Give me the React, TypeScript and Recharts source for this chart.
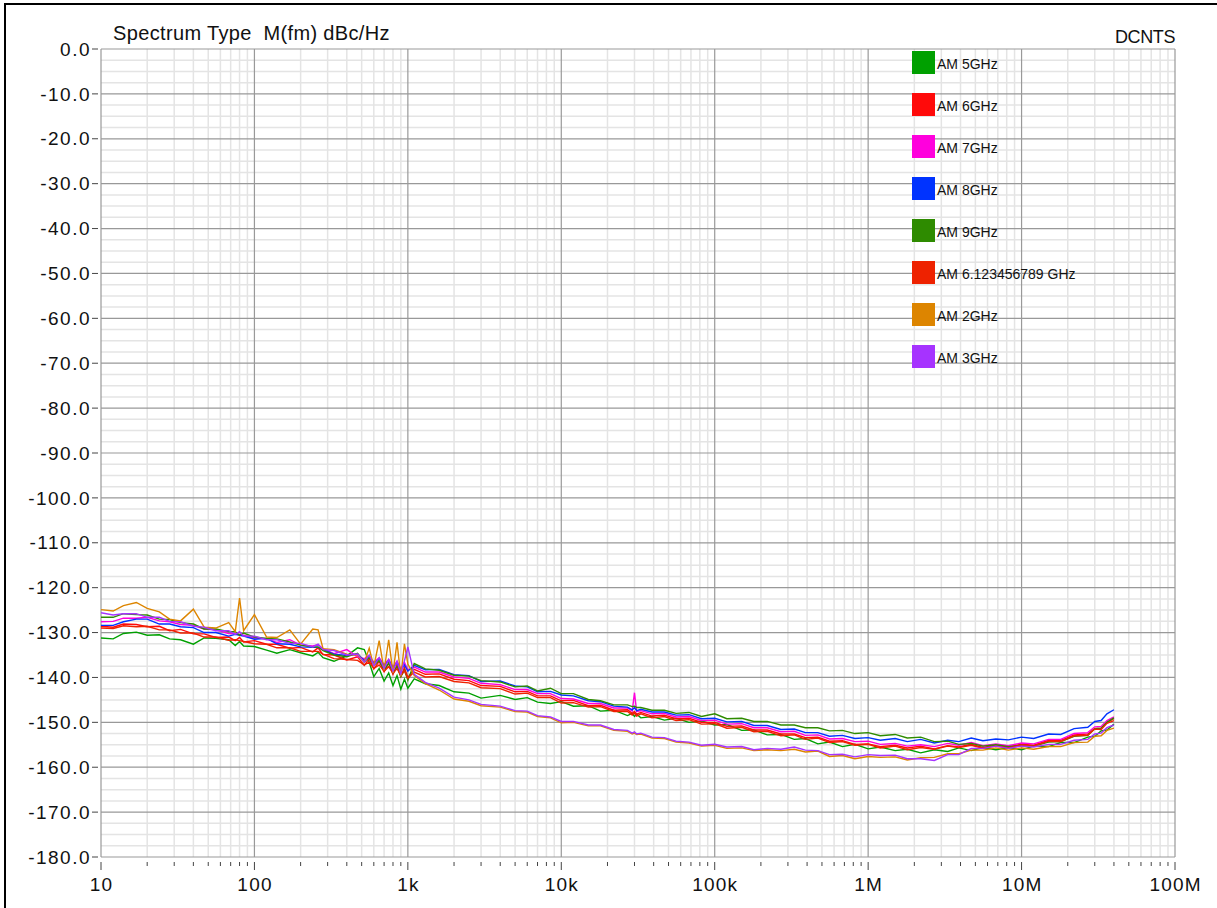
import { CartesianGrid, Legend, Line, LineChart, XAxis, YAxis } from 'recharts'

// Offset frequencies (Hz), shared by every trace.
const FREQ = [
  10, 12, 14, 17, 20, 24, 28, 33, 40, 47,
  56, 68, 75, 80, 85, 100, 120, 140, 170, 200,
  240, 260, 280, 330, 400, 470, 520, 560, 600, 650,
  700, 750, 800, 850, 900, 950, 1000,
  1100, 1300, 1600, 2000, 2500, 3000, 4000, 5000, 6000, 7000,
  8500, 10000, 12000, 15000, 18000, 22000, 27000, 29000, 30000, 31000,
  33000, 39000, 47000, 56000, 68000, 82000, 100000, 120000, 150000, 180000,
  220000, 270000, 330000, 390000, 470000, 560000, 680000, 820000, 1e6, 1.2e6,
  1.5e6, 1.8e6, 2.2e6, 2.7e6, 3.3e6, 3.9e6, 4.7e6, 5.6e6, 6.8e6, 8.2e6,
  1e7, 1.2e7, 1.5e7, 1.8e7, 2.2e7, 2.7e7, 3e7, 3.3e7, 3.6e7, 4e7,
]

// M(fm) in dBc/Hz
const AM_5GHZ = [
  -131.2, -131.4, -130.2, -129.9, -130.6, -130.5, -131.4, -131.6, -132.6, -131.2,
  -131.3, -131.6, -132.9, -132, -133, -133.1, -133.9, -134.6, -133.8, -134.5,
  -135.2, -134.4, -135.6, -136.4, -135.2, -133.4, -133.8, -136.6, -139.8, -138,
  -140.8, -139, -141.8, -139.6, -142.6, -140.4, -142.4,
  -140.3, -141.4, -141.8, -143.2, -143.5, -144.6, -144, -144.9, -144.5, -145.5,
  -145.8, -145.4, -146.4, -146.3, -147.5, -147.3, -148.5, -148, -148.7, -148.2,
  -149, -148.7, -149.5, -149.1, -150, -149.7, -150.6, -150.5, -151.8, -151.7,
  -152.8, -152.7, -153.8, -153.6, -154.8, -154.4, -155.4, -154.9, -155.9, -155.5,
  -156.3, -156, -156.8, -156.1, -156.5, -155.7, -156.3, -155.6, -156.1, -155.6,
  -156.1, -155.3, -155.4, -154.5, -154.5, -153.3, -153.1, -151.9, -151.7, -150.4,
]
const AM_6GHZ = [
  -128.6, -128.8, -128.1, -128.2, -128.7, -128.6, -129.6, -129.3, -130.3, -130.3,
  -131.1, -131, -131.8, -131.1, -132.1, -131.8, -132.6, -132.6, -133.5, -133.3,
  -134.3, -133.4, -134.9, -135, -136.1, -135.4, -137.3, -135.8, -138.1, -136.4,
  -138.7, -136.8, -139.3, -137.2, -139.8, -137.8, -140,
  -138.2, -139.3, -139.2, -140.4, -140.7, -141.8, -142, -143.2, -143.1, -144.1,
  -144.1, -145.2, -145.1, -146.3, -146.2, -147.3, -147.2, -148, -147.6, -148.2,
  -147.8, -148.6, -148.4, -149.2, -149.1, -150, -150, -150.9, -150.8, -151.7,
  -151.7, -152.6, -152.6, -153.4, -153.3, -154.2, -154.1, -154.9, -154.8, -155.4,
  -155.1, -155.7, -155.3, -155.9, -155.2, -155.5, -154.9, -155.6, -155.1, -155.5,
  -154.9, -155.1, -154, -154, -152.8, -152.6, -151.4, -151.3, -150, -149.2,
]
const AM_7GHZ = [
  -127.6, -127.5, -126.8, -126.8, -126.6, -127.4, -127.6, -128.2, -128.4, -129.2,
  -129.4, -130.2, -130.3, -130.4, -130.6, -131.2, -131.4, -132.2, -131.6, -132.8,
  -133, -132.7, -133.6, -134.7, -133.8, -135.4, -135.8, -135.2, -136.6, -135.6,
  -137.1, -136, -137.6, -136.4, -138, -136.6, -138.3,
  -137.7, -138.8, -138.8, -139.9, -140.2, -141.3, -141.6, -142.7, -142.7, -143.6,
  -143.6, -144.7, -144.8, -145.8, -145.8, -146.8, -146.8, -147.5, -143.4, -147.6,
  -147.4, -148.1, -148, -148.8, -148.7, -149.6, -149.5, -150.4, -150.3, -151.2,
  -151.2, -152.1, -152, -152.9, -152.8, -153.7, -153.6, -154.3, -154.2, -154.9,
  -154.7, -155.3, -155, -155.4, -154.7, -155.1, -154.5, -155.2, -154.8, -155.2,
  -154.6, -154.8, -153.8, -153.8, -152.5, -152.3, -151, -150.9, -149.6, -148.8,
]
const AM_8GHZ = [
  -128.4, -128.4, -127.6, -127, -127, -128.1, -128.1, -128.7, -128.9, -130,
  -130, -130.8, -130.4, -130.6, -130.8, -131.5, -131.3, -132.5, -132.6, -133.2,
  -133.3, -133.3, -133.8, -134.8, -135.1, -134.8, -136.2, -135.5, -136.8, -135.9,
  -137.4, -136.2, -137.8, -136.8, -138.4, -137.2, -138.6,
  -137.3, -138.3, -138.2, -139.4, -139.6, -140.9, -140.8, -141.9, -142.1, -143.2,
  -143.1, -143.9, -144.1, -145.2, -145.4, -146.4, -146.6, -147.2, -146.7, -147.4,
  -147.1, -147.7, -147.7, -148.4, -148.3, -149.2, -149.1, -149.9, -149.8, -150.7,
  -150.7, -151.6, -151.5, -152.3, -152.3, -153.1, -152.9, -153.6, -153.4, -154,
  -153.6, -154.3, -153.8, -154.6, -154, -154.3, -153.5, -154.1, -153.7, -153.9,
  -153.3, -153.6, -152.6, -152.7, -151.4, -151.1, -149.8, -149.6, -148.1, -147.2,
]
const AM_9GHZ = [
  -126.6, -126.6, -125.8, -126, -126.1, -127, -127.1, -127.8, -128.1, -129.2,
  -129.2, -129.8, -129.8, -130.6, -130.1, -131, -131.3, -131.4, -132.1, -132.8,
  -133.2, -133.2, -134, -135, -135.4, -134.6, -136.6, -135.4, -137.3, -136.2,
  -138.3, -136.8, -139, -137.6, -139.8, -138.4, -140.6,
  -136.9, -138.1, -138.4, -139.5, -139.7, -140.7, -141, -142.1, -141.9, -143,
  -142.4, -143.6, -143.6, -144.9, -145.2, -146.1, -146.1, -146.5, -146.4, -146.7,
  -146.7, -147.3, -147.3, -148, -147.8, -148.7, -148.1, -149.2, -149.1, -149.8,
  -149.8, -150.6, -150.6, -151.2, -151.2, -151.9, -151.8, -152.5, -152.3, -153,
  -152.7, -153.5, -153.3, -154.3, -154.2, -154.9, -154.7, -155.3, -155, -155.4,
  -155.1, -155.3, -154.4, -154.3, -153.1, -152.9, -151.4, -151.3, -150, -149,
]
const AM_6_123 = [
  -129, -129.1, -128.5, -128.7, -128.6, -129.4, -129.4, -130.1, -130.1, -131,
  -131, -131.7, -131.6, -131.8, -132, -132.5, -132.6, -133.4, -133.4, -134.2,
  -134.2, -134.2, -134.8, -135.8, -136, -136.2, -137.2, -136.6, -138, -137.2,
  -138.6, -137.6, -139.1, -138, -139.6, -138.5, -140.2,
  -138.8, -139.9, -139.8, -140.9, -141.2, -142.3, -142.5, -143.7, -143.5, -144.5,
  -144.5, -145.7, -145.6, -146.6, -146.5, -147.6, -147.6, -148.4, -147.9, -148.6,
  -148.1, -149, -148.7, -149.6, -149.4, -150.4, -150.3, -151.3, -151.1, -152.1,
  -152, -153, -152.8, -153.8, -153.5, -154.5, -154.3, -155.1, -154.9, -155.7,
  -155.3, -156.1, -155.6, -156, -155.3, -155.6, -155.1, -155.8, -155.3, -155.7,
  -155, -155.3, -154.2, -154.3, -153, -152.9, -151.5, -151.6, -150.2, -149.6,
]
const AM_2GHZ = [
  -124.9, -125.2, -124, -123.3, -124.6, -125.4, -127, -127.4, -124.8, -128.8,
  -129, -127.8, -129.8, -122.3, -129.6, -126, -131, -131.1, -129.4, -132.6,
  -129.2, -129.4, -133.6, -133.8, -134.8, -135, -136.6, -133.5, -137.6, -131.8,
  -138.4, -131.6, -139, -132.2, -139.8, -132.5, -137,
  -139.6, -141.4, -142.8, -144.8, -145.3, -146.3, -146.6, -147.6, -147.7, -148.7,
  -149, -150.1, -150, -150.8, -150.8, -151.8, -152, -152.6, -152.4, -152.7,
  -152.6, -153.5, -153.6, -154.4, -154.6, -155.3, -155.1, -155.8, -155.7, -156.3,
  -156.1, -156.3, -156, -156.6, -156.4, -157.6, -157.4, -158.1, -157.6, -157.8,
  -157.7, -158.4, -157.9, -157.8, -157, -157, -156.2, -156.2, -155.7, -156.2,
  -155.7, -156, -155.4, -155.4, -154.5, -154.4, -153.1, -153, -151.8, -151.3,
]
const AM_3GHZ = [
  -125.6, -126.1, -125.8, -125.8, -126.6, -126.6, -127.5, -127.6, -128.6, -128.8,
  -129.6, -129.6, -130.4, -129.8, -130.8, -130.8, -131.6, -131.6, -132.4, -132.4,
  -133.2, -132.6, -133.8, -134, -135, -134.8, -136.6, -135, -137.4, -135.6,
  -138, -136, -138.6, -136.4, -139.2, -136.3, -133.2,
  -139.3, -141.1, -142.4, -144.4, -145, -146, -146.4, -147.4, -147.5, -148.5,
  -148.8, -149.8, -149.8, -150.6, -150.6, -151.6, -151.8, -152.4, -152.1, -152.6,
  -152.4, -153.3, -153.4, -154.2, -154.4, -155.1, -154.9, -155.5, -155.4, -156.1,
  -155.8, -156, -155.5, -156.2, -156.3, -157.2, -157.1, -157.7, -157.2, -157.4,
  -157.3, -158.1, -158.1, -158.5, -157.2, -157.2, -155.8, -155.8, -155.3, -155.8,
  -155.3, -155.5, -154.9, -154.9, -154, -153.8, -152.6, -152.4, -151.2, -150.6,
]

const SERIES_NAMES = [
  'AM 5GHz',
  'AM 6GHz',
  'AM 7GHz',
  'AM 8GHz',
  'AM 9GHz',
  'AM 6.123456789 GHz',
  'AM 2GHz',
  'AM 3GHz',
]
const SERIES_VALUES = [AM_5GHZ, AM_6GHZ, AM_7GHZ, AM_8GHZ, AM_9GHZ, AM_6_123, AM_2GHZ, AM_3GHZ]
const SERIES_COLORS = ['#00a000', '#ff0a0a', '#ff00dd', '#0033ff', '#2e8b00', '#ee2200', '#dd8500', '#a633ff']

const X_DECADES = [10, 100, 1000, 1e4, 1e5, 1e6, 1e7, 1e8]
const X_DECADE_LABELS = ['10', '100', '1k', '10k', '100k', '1M', '10M', '100M']
const Y_TICKS = [0, -10, -20, -30, -40, -50, -60, -70, -80, -90, -100, -110, -120, -130, -140, -150, -160, -170, -180]

const FONT = '"Liberation Sans", Arial, sans-serif'

// 2..9 per decade for the minor ticks / grid
const xMinor: number[] = []
X_DECADES.slice(0, -1).forEach((d) => {
  for (let m = 2; m <= 9; m++) xMinor.push(d * m)
})
const xAllTicks = [...X_DECADES, ...xMinor].sort((a, b) => a - b)
const yMinor: number[] = []
for (let v = 0; v > -180; v -= 2.5) if (v % 10 !== 0) yMinor.push(v)

const data = FREQ.map((f, i) => {
  const row: Record<string, number> = { f }
  SERIES_VALUES.forEach((vals, k) => {
    row[`s${k}`] = vals[i]
  })
  return row
})

function XTick(props: any) {
  const { x, y, payload } = props
  const idx = X_DECADES.indexOf(payload.value)
  const major = idx >= 0
  return (
    <g>
      <line x1={x} x2={x} y1={y + 5} y2={y + (major ? 13 : 9)} stroke="#444" strokeWidth={1} />
      {major && (
        <text
          x={x + 0.6}
          y={y + 34}
          textAnchor="middle"
          fontSize={19}
          letterSpacing={1.2}
          fontFamily={FONT}
          fill="#111"
        >
          {X_DECADE_LABELS[idx]}
        </text>
      )}
    </g>
  )
}

function YTick(props: any) {
  const { x, y, payload } = props
  return (
    <g>
      <line x1={x - 9} x2={x - 3} y1={y} y2={y} stroke="#444" strokeWidth={1} />
      <text
        x={x - 10}
        y={y}
        dy="0.35em"
        textAnchor="end"
        fontSize={19}
        letterSpacing={1.5}
        fontFamily={FONT}
        fill="#111"
      >
        {Number(payload.value).toFixed(1)}
      </text>
    </g>
  )
}

function LegendBox() {
  return (
    <div style={{ fontFamily: FONT, fontSize: 14, color: '#111' }}>
      {SERIES_NAMES.map((name, k) => (
        <div key={name} style={{ display: 'flex', alignItems: 'center', height: 23, marginBottom: 19 }}>
          <span
            style={{ width: 23, height: 23, background: SERIES_COLORS[k], display: 'inline-block', marginRight: 2 }}
          />
          <span style={{ whiteSpace: 'nowrap', paddingTop: 2 }}>{name}</span>
        </div>
      ))}
    </div>
  )
}

export default function App() {
  return (
    <div style={{ position: 'relative', width: 1217, height: 908, overflow: 'hidden', background: '#fff' }}>
      <style>{'body{margin:0}'}</style>
      <div
        style={{
          position: 'absolute',
          left: 4,
          top: 3,
          width: 1400,
          height: 1200,
          borderTop: '2px solid #000',
          borderLeft: '2px solid #000',
          pointerEvents: 'none',
        }}
      />
      <div
        style={{
          position: 'absolute',
          left: 113,
          top: 23,
          fontFamily: FONT,
          fontSize: 20,
          lineHeight: '20px',
          letterSpacing: 0.35,
          whiteSpace: 'pre',
          color: '#111',
        }}
      >
        {'Spectrum Type  M(fm) dBc/Hz'}
      </div>
      <div
        style={{
          position: 'absolute',
          right: 42,
          top: 28,
          fontFamily: FONT,
          fontSize: 18,
          lineHeight: '19px',
          letterSpacing: -0.4,
          color: '#111',
        }}
      >
        DCNTS
      </div>
      <LineChart width={1217} height={908} data={data} margin={{ top: 49, right: 42, bottom: 11, left: 5 }}>
        <CartesianGrid stroke="#e4e4e4" strokeWidth={1.5} verticalValues={xMinor} horizontalValues={yMinor} />
        <CartesianGrid stroke="#999" strokeWidth={1.2} verticalValues={X_DECADES} horizontalValues={Y_TICKS} />
        <XAxis
          dataKey="f"
          type="number"
          scale="log"
          domain={[10, 1e8]}
          ticks={xAllTicks}
          interval={0}
          allowDataOverflow
          axisLine={false}
          tickLine={false}
          tickSize={0}
          tickMargin={0}
          height={40}
          tick={<XTick />}
        />
        <YAxis
          type="number"
          domain={[-180, 0]}
          ticks={Y_TICKS}
          interval={0}
          allowDataOverflow
          axisLine={false}
          tickLine={false}
          tickSize={0}
          tickMargin={0}
          width={96}
          tick={<YTick />}
        />
        <Legend
          layout="vertical"
          align="center"
          verticalAlign="middle"
          content={<LegendBox />}
          wrapperStyle={{ left: 912, top: 51, width: 200, height: 340 }}
        />
        {SERIES_NAMES.map((name, k) => (
          <Line
            key={name}
            name={name}
            dataKey={`s${k}`}
            type="linear"
            stroke={SERIES_COLORS[k]}
            strokeWidth={1.4}
            dot={false}
            activeDot={false}
            isAnimationActive={false}
          />
        ))}
      </LineChart>
    </div>
  )
}
